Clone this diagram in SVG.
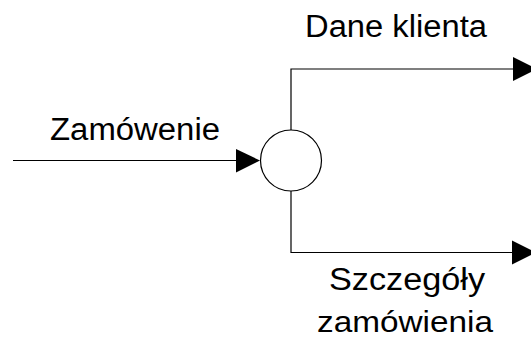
<svg xmlns="http://www.w3.org/2000/svg" width="531" height="338" viewBox="0 0 531 338">
<style>
.t{font-family:"Liberation Sans",Arial,sans-serif;font-size:31px;fill:#000}
.l{fill:none;stroke:#000;stroke-width:1.2}
.a{fill:#000}
</style>
<rect width="531" height="338" fill="#fff"/>
<g id="connectors">
<g id="in">
<line class="l" x1="13" y1="160.5" x2="238" y2="160.5"/>
<polygon class="a" points="236,149 260,160.5 236,172.5"/>
</g>
<g id="out-top">
<polyline class="l" points="291,130 291,69 515,69"/>
<polygon class="a" points="513,57 537,69 513,81"/>
</g>
<g id="out-bottom">
<polyline class="l" points="291,191 291,252.5 515,252.5"/>
<polygon class="a" points="512,240.5 536,252.5 512,264.5"/>
</g>
</g>
<g id="process">
<circle cx="291" cy="160.5" r="30.5" fill="#fff" stroke="#000" stroke-width="1.2"/>
</g>
<g id="labels">
<text class="t" x="50" y="140" textLength="170" lengthAdjust="spacingAndGlyphs">Zamówenie</text>
<text class="t" x="305" y="37" textLength="182" lengthAdjust="spacingAndGlyphs">Dane klienta</text>
<text class="t" x="329" y="290" textLength="156" lengthAdjust="spacingAndGlyphs">Szczegóły</text>
<text class="t" x="317" y="332" style="font-size:30px" textLength="176" lengthAdjust="spacingAndGlyphs">zamówienia</text>
</g>
</svg>
